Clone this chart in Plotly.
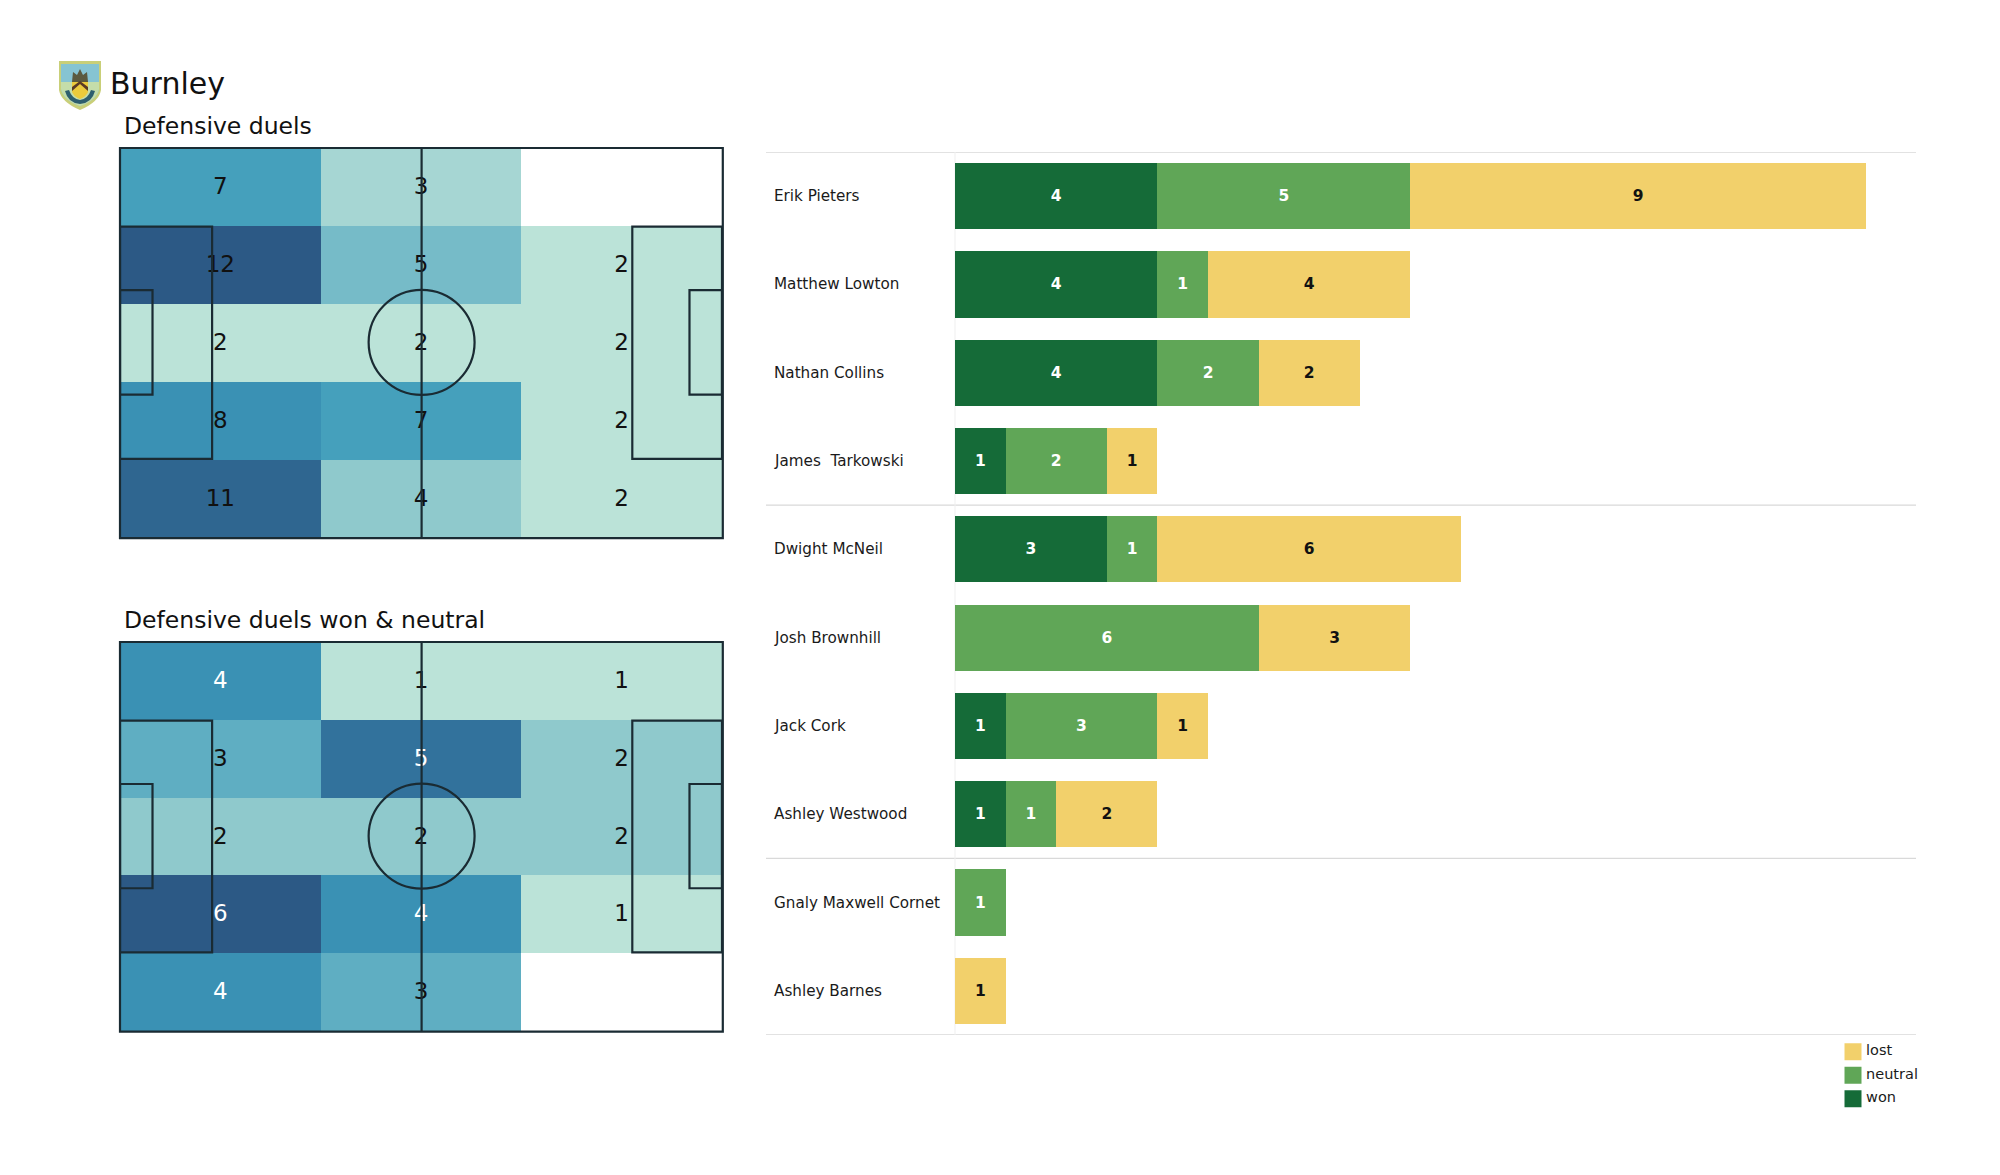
import plotly.graph_objects as go

team = "Burnley"
title_all = "Defensive duels"
title_won = "Defensive duels won & neutral"

duels_all = [[7, 3, None], [12, 5, 2], [2, 2, 2], [8, 7, 2], [11, 4, 2]]
duels_won = [[4, 1, 1], [3, 5, 2], [2, 2, 2], [6, 4, 1], [4, 3, None]]
zone_x = [16.67, 50.0, 83.33]
zone_y = [10, 30, 50, 70, 90]

players = ["Erik Pieters", "Matthew Lowton", "Nathan Collins", "James  Tarkowski",
           "Dwight McNeil", "Josh Brownhill", "Jack Cork", "Ashley Westwood",
           "Gnaly Maxwell Cornet", "Ashley Barnes"]
won = [4, 4, 4, 1, 3, 0, 1, 1, 0, 0]
neutral = [5, 1, 2, 2, 1, 6, 3, 1, 1, 0]
lost = [9, 4, 2, 1, 6, 3, 1, 2, 0, 1]
legend_names = ["lost", "neutral", "won"]

C_WON, C_NEU, C_LOST = "#156B38", "#60A657", "#F2D06B"
FONT = "DejaVu Sans"
COLORSCALE = [[0, "#BBE3D8"], [.1, "#A6D6D3"], [.2, "#8FC9CC"], [.3, "#76BBC8"], [.4, "#5FAEC2"],
              [.5, "#45A0BC"], [.6, "#3A91B4"], [.8, "#32729C"], [.9, "#2F6690"], [1, "#2C5985"]]
W, H = 2000, 1175


def dx(a, b):
    return [a / W, b / W]


def dy(top, bottom):
    return [1 - bottom / H, 1 - top / H]


def hidden(**kw):
    return dict(visible=False, fixedrange=True, **kw)


fig = go.Figure()
layout = dict(width=W, height=H, autosize=False, margin=dict(l=0, r=0, t=0, b=0),
              paper_bgcolor="white", plot_bgcolor="rgba(0,0,0,0)", showlegend=False,
              font=dict(family=FONT, color="#111111"))
shapes, annots = [], []


def label(text, px, py, size):
    annots.append(dict(text=text, xref="paper", yref="paper", x=px / W, y=1 - py / H,
                       xanchor="left", yanchor="middle", showarrow=False,
                       font=dict(size=size, family=FONT, color="#111111")))


def pitch(values, idx, top, bottom):
    xa, ya = f"x{idx}", f"y{idx}"
    nums = [v for row in values for v in row if v is not None]
    lo, hi = min(nums), max(nums)
    fig.add_trace(go.Heatmap(z=values, x=zone_x, y=zone_y, xaxis=xa, yaxis=ya, zmin=lo, zmax=hi,
                             colorscale=COLORSCALE, showscale=False, hoverinfo="skip", xgap=0, ygap=0))
    xs, ys, txt, cols = [], [], [], []
    for r, row in enumerate(values):
        for c, v in enumerate(row):
            if v is None:
                continue
            xs.append(zone_x[c])
            ys.append(zone_y[r] + 0.35)
            txt.append(str(v))
            cols.append("white" if (v - lo) / (hi - lo) >= 0.55 and hi == 6 else "#111111")
    fig.add_trace(go.Scatter(x=xs, y=ys, text=txt, mode="text", xaxis=xa, yaxis=ya, hoverinfo="skip",
                             textfont=dict(size=23, color=cols, family=FONT), cliponaxis=False))
    layout[f"xaxis{idx}"] = hidden(domain=dx(120, 722), range=[0, 100], anchor=ya)
    layout[f"yaxis{idx}"] = hidden(domain=dy(top, bottom), range=[100, 0], anchor=xa)
    line = dict(color="#1A2B33", width=2.2)
    ref = dict(xref=xa, yref=ya, line=line, layer="above")
    # the outline sits just outside the plotting box, so it is placed on the page
    shapes.append(dict(type="rect", xref="paper", yref="paper", x0=120 / W, x1=722.8 / W,
                       y0=1 - (bottom + 0.6) / H, y1=1 - top / H, line=line, layer="above"))
    shapes.append(dict(type="line", x0=50.1, x1=50.1, y0=0, y1=100, **ref))
    shapes.append(dict(type="circle", x0=41.3, x1=58.9, y0=36.4, y1=63.4, **ref))
    for x0, x1 in ((0, 15.3), (85.1, 100)):
        shapes.append(dict(type="rect", x0=x0, x1=x1, y0=20.2, y1=79.8, **ref))
    for x0, x1 in ((0, 5.4), (94.6, 100)):
        shapes.append(dict(type="rect", x0=x0, x1=x1, y0=36.5, y1=63.3, **ref))


pitch(duels_all, 1, 148, 537.5)
pitch(duels_won, 2, 642, 1031)

# stacked bars
for name, vals, col, tcol in (("won", won, C_WON, "white"), ("neutral", neutral, C_NEU, "white"),
                              ("lost", lost, C_LOST, "#111111")):
    fig.add_trace(go.Bar(name=name, y=players, x=vals, orientation="h", xaxis="x3", yaxis="y3",
                         marker=dict(color=col, line=dict(width=0)),
                         text=[str(v) if v else "" for v in vals], textposition="inside",
                         insidetextanchor="middle", textangle=0, constraintext="none",
                         textfont=dict(size=15.5, color=tcol, family=FONT, weight="bold"),
                         hoverinfo="skip"))
layout["barmode"] = "stack"
layout["bargap"] = 0.25
layout["xaxis3"] = hidden(domain=dx(955, 1916.5), range=[0, 19], anchor="y3")
layout["yaxis3"] = hidden(domain=dy(152, 1035), type="category", categoryorder="array",
                          categoryarray=players, range=[9.5, -0.5], anchor="x3")
for pos in (-0.5, 3.5, 7.5, 9.5):
    shapes.append(dict(type="line", xref="paper", yref="y3", x0=766 / W, x1=1916 / W, y0=pos, y1=pos,
                       line=dict(color="#D9D9D9", width=1.3), layer="below"))
shapes.append(dict(type="line", xref="paper", yref="paper", x0=955 / W, x1=955 / W,
                   y0=1 - 1035 / H, y1=1 - 152 / H, line=dict(color="#EFEFEF", width=1), layer="below"))
for p in players:
    annots.append(dict(text=p, xref="paper", yref="y3", x=771.5 / W, y=p, xanchor="left", yanchor="middle",
                       showarrow=False, font=dict(size=15.2, family=FONT, color="#1A1A1A")))

# legend
fig.add_trace(go.Scatter(x=[0, 0, 0], y=legend_names, mode="markers+text",
                         text=["\u200a" + t for t in legend_names],
                         textposition="middle right", xaxis="x4", yaxis="y4", cliponaxis=False,
                         textfont=dict(size=14.5, color="#1A1A1A", family=FONT), hoverinfo="skip",
                         marker=dict(symbol="square", size=17, color=[C_LOST, C_NEU, C_WON])))
layout["xaxis4"] = hidden(domain=dx(1840, 1866), range=[-1, 1], anchor="y4")
layout["yaxis4"] = hidden(domain=dy(1040, 1110.5), type="category", categoryorder="array",
                          categoryarray=legend_names, range=[2.5, -0.5], anchor="x4")

# crest, drawn on an axis measured in page pixels
layout["xaxis5"] = hidden(domain=dx(50, 110), range=[50, 110], anchor="y5")
layout["yaxis5"] = hidden(domain=dy(55, 115), range=[115, 55], anchor="x5")
fig.add_trace(go.Scatter(x=[60], y=[60], mode="markers", marker=dict(opacity=0), xaxis="x5", yaxis="y5",
                         hoverinfo="skip"))
crest = [
    ("M59 61 L101 61 L101 90 Q99 102 80 110 Q61 102 59 90 Z", "#C9CF78"),
    ("M61 64 L99 64 L99 89 Q97 100 80 106 Q63 100 61 89 Z", "#86C4D2"),
    ("M61 82 L99 82 L99 89 Q97 100 80 106 Q63 100 61 89 Z", "#C4DDAA"),
    ("M73 72 L77 75 L80 69 L83 75 L87 72 L88 82 L72 82 Z", "#5B5A3E"),
    ("M72 82 L88 82 L88 92 Q86 97 80 99 Q74 97 72 92 Z", "#EBCB3C"),
    ("M72 91 L80 84 L88 91 L88 87 L80 81 L72 87 Z", "#5A3A24"),
    ("M65 91 L69 90 Q72 99 80 100 Q88 99 91 90 L95 91 Q92 103 80 104 Q68 103 65 91 Z", "#2E5F6E"),
]
for path, fill in crest:
    shapes.append(dict(type="path", path=path, xref="x5", yref="y5", fillcolor=fill,
                       line=dict(width=0), layer="above"))

label(team, 108, 83.5, 30)
label(title_all, 122, 125.5, 23.5)
label(title_won, 122, 619.5, 23.5)

layout["shapes"] = shapes
layout["annotations"] = annots
fig.update_layout(**layout)
fig.write_html("out.html", config={"displayModeBar": False},
               post_script="document.body.style.margin='0';document.body.style.overflow='hidden';")
